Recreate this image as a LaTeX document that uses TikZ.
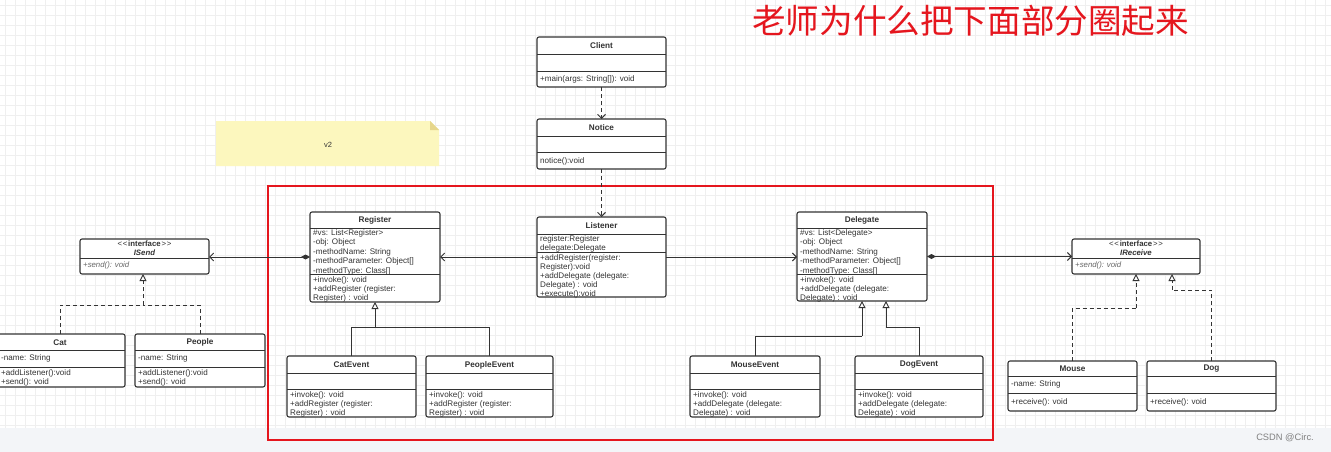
\documentclass[tikz,border=0pt]{standalone}
\usepackage{fontspec}
\setmainfont{Liberation Sans}
\newfontfamily\cjk{Noto Sans CJK SC}
\usetikzlibrary{arrows.meta}
\definecolor{boxc}{HTML}{333333}
\definecolor{txtc}{HTML}{333333}
\definecolor{gridc}{HTML}{EFEFEF}
\definecolor{redc}{HTML}{E5161E}
\definecolor{notef}{HTML}{FCF7BE}
\definecolor{notefold}{HTML}{E6D68C}
\definecolor{bandc}{HTML}{F3F5F8}
\tikzset{
  cls/.style={draw=boxc, line width=1.1pt, rounded corners=2pt, fill=white, inner sep=0pt, outer sep=0pt},
  sepl/.style={draw=boxc, line width=0.9pt},
  txt/.style={font=\fontsize{8.1}{9.4}\selectfont, text=txtc, inner sep=0pt, align=left, anchor=north west},
  ttl/.style={font=\bfseries\fontsize{8.2}{9}\selectfont, text=txtc, inner sep=0pt, align=center},
  conn/.style={draw=boxc, line width=0.9pt},
  dep/.style={conn, dash pattern=on 4pt off 3pt, -{Straight Barb[length=4pt,width=8pt]}},
  assoc/.style={conn, -{Straight Barb[length=4pt,width=8pt]}},
  comp/.style={conn, {Diamond[length=9pt,width=5pt]}-{Straight Barb[length=4pt,width=8pt]}},
  inh/.style={conn, -{Triangle[open,length=7pt,width=7pt,fill=white]}},
  real/.style={conn, dash pattern=on 4pt off 3pt, -{Triangle[open,length=7pt,width=7pt,fill=white]}},
  plain/.style={conn},
  dplain/.style={conn, dash pattern=on 4pt off 3pt}
}
\newcommand\ucls[5]{\node[cls, minimum width=#4pt, minimum height=#5pt, anchor=north west] (#1) at (#2,#3) {};}
\newcommand\usep[2]{\draw[sepl] ([yshift=-#2pt]#1.north west) -- ([yshift=-#2pt]#1.north east);}
\newcommand\utitle[3]{\node[ttl] at ([yshift=-#2pt]#1.north) {#3};}
\newcommand\utext[3]{\node[txt] at ([shift={(3pt,-#2pt)}]#1.north west) {#3};}
\newcommand\ifc{<\kern0.8pt<\kern0.8pt\textbf{interface}\kern0.8pt>\kern0.8pt>}
\begin{document}
\begin{tikzpicture}[x=1pt,y=-1pt]
\useasboundingbox (0,0) rectangle (1331,452);
\clip (0,0) rectangle (1331,452);
\fill[white] (0,0) rectangle (1331,452);
\foreach \i in {5,15,...,1325} \draw[gridc, line width=0.5pt] (\i,0) -- (\i,428);
\foreach \j in {5,15,...,425} \draw[gridc, line width=0.5pt] (0,\j) -- (1331,\j);
\fill[bandc] (0,428) rectangle (1331,452);

% title and watermark
\node[anchor=west, inner sep=0pt, text=redc, font=\cjk\fontsize{33.6}{36}\selectfont] (title) at (752,21) {老师为什么把下面部分圈起来};
\node[inner sep=0pt, text=gray, font=\fontsize{9.3}{10}\selectfont] (wm) at (1285,438) {CSDN @Circ.};

% note
\fill[notef] (216,121) -- (430,121) -- (439,130) -- (439,166) -- (216,166) -- cycle;
\fill[notefold] (430,121) -- (439,130) -- (430,130) -- cycle;
\node[inner sep=0pt, text=txtc, font=\fontsize{7.5}{8}\selectfont] (note) at (328,145) {v2};

% red frame
\draw[redc, line width=2.6pt] (268,186) rectangle (993,440);

% Client
\ucls{client}{537}{37}{129}{50}
\usep{client}{17}\usep{client}{34}
\utitle{client}{9}{Client}
\utext{client}{38}{+main(args: String[]): void}

% Notice
\ucls{notice}{537}{119}{129}{50}
\usep{notice}{17}\usep{notice}{33}
\utitle{notice}{9}{Notice}
\utext{notice}{38}{notice():void}

% Listener
\ucls{listener}{537}{217}{129}{80}
\usep{listener}{17}\usep{listener}{35}
\utitle{listener}{9}{Listener}
\node[txt, font=\fontsize{8.1}{8.8}\selectfont] at ([shift={(3pt,-18.5pt)}]listener.north west) {register:Register\\delegate:Delegate};
\node[txt, font=\fontsize{8.1}{9}\selectfont] at ([shift={(3pt,-37pt)}]listener.north west) {+addRegister(register:\\Register):void\\+addDelegate (delegate:\\Delegate) : void\\+execute():void};

% Register
\ucls{register}{310}{212}{130}{90}
\usep{register}{16}\usep{register}{62}
\utitle{register}{8.5}{Register}
\utext{register}{17.5}{\#vs: List<Register>\\-obj: Object\\-methodName: String\\-methodParameter: Object[]\\-methodType: Class[]}
\utext{register}{64}{+invoke(): void\\+addRegister (register:\\Register) : void}

% Delegate
\ucls{delegate}{797}{212}{130}{89}
\usep{delegate}{16}\usep{delegate}{62}
\utitle{delegate}{8.5}{Delegate}
\utext{delegate}{17.5}{\#vs: List<Delegate>\\-obj: Object\\-methodName: String\\-methodParameter: Object[]\\-methodType: Class[]}
\utext{delegate}{64}{+invoke(): void\\+addDelegate (delegate:\\Delegate) : void}

% ISend
\ucls{isend}{80}{239}{129}{35}
\usep{isend}{19}
\node[ttl, font=\fontsize{7.8}{8.6}\selectfont] at ([yshift=-9.5pt]isend.north) {\ifc\\\textbf{\textit{ISend}}};
\node[txt, font=\itshape\fontsize{7.8}{9}\selectfont, text=gray!80!black] at ([shift={(3pt,-23pt)}]isend.north west) {+send(): void};

% IReceive
\ucls{ireceive}{1072}{239}{128}{35}
\usep{ireceive}{19}
\node[ttl, font=\fontsize{7.8}{8.6}\selectfont] at ([yshift=-9.5pt]ireceive.north) {\ifc\\\textbf{\textit{IReceive}}};
\node[txt, font=\itshape\fontsize{7.8}{9}\selectfont, text=gray!80!black] at ([shift={(3pt,-23pt)}]ireceive.north west) {+send(): void};

% Cat
\ucls{cat}{-5}{334}{130}{53}
\usep{cat}{16}\usep{cat}{33}
\utitle{cat}{8.5}{Cat}
\node[txt] at ([shift={(6pt,-20.5pt)}]cat.north west) {-name: String};
\node[txt] at ([shift={(6pt,-35pt)}]cat.north west) {+addListener():void\\+send(): void};

% People
\ucls{people}{135}{334}{130}{53}
\usep{people}{16}\usep{people}{33}
\utitle{people}{8.5}{People}
\utext{people}{20.5}{-name: String}
\utext{people}{35}{+addListener():void\\+send(): void}

% CatEvent
\ucls{catevent}{287}{356}{129}{61}
\usep{catevent}{17}\usep{catevent}{33}
\utitle{catevent}{9}{CatEvent}
\utext{catevent}{35}{+invoke(): void\\+addRegister (register:\\Register) : void}

% PeopleEvent
\ucls{peopleevent}{426}{356}{127}{61}
\usep{peopleevent}{17}\usep{peopleevent}{33}
\utitle{peopleevent}{9}{PeopleEvent}
\utext{peopleevent}{35}{+invoke(): void\\+addRegister (register:\\Register) : void}

% MouseEvent
\ucls{mouseevent}{690}{356}{130}{61}
\usep{mouseevent}{17}\usep{mouseevent}{33}
\utitle{mouseevent}{9}{MouseEvent}
\utext{mouseevent}{35}{+invoke(): void\\+addDelegate (delegate:\\Delegate) : void}

% DogEvent
\ucls{dogevent}{855}{356}{128}{61}
\usep{dogevent}{17}\usep{dogevent}{33}
\utitle{dogevent}{9}{DogEvent}
\utext{dogevent}{35}{+invoke(): void\\+addDelegate (delegate:\\Delegate) : void}

% Mouse
\ucls{mouse}{1008}{361}{129}{50}
\usep{mouse}{15}\usep{mouse}{32}
\utitle{mouse}{8}{Mouse}
\utext{mouse}{19.5}{-name: String}
\utext{mouse}{37}{+receive(): void}

% Dog
\ucls{dog}{1147}{361}{129}{50}
\usep{dog}{15}\usep{dog}{32}
\utitle{dog}{8}{Dog}
\utext{dog}{37}{+receive(): void}

% connectors
\draw[dep] (client.south) -- (notice.north);
\draw[dep] (notice.south) -- (listener.north);
\draw[assoc] (listener.west) -- (listener.west -| register.east);
\draw[assoc] (listener.east) -- (listener.east -| delegate.west);
\draw[comp] (register.west) -- (register.west -| isend.east);
\draw[comp] (delegate.east) -- (delegate.east -| ireceive.west);

\coordinate (rj) at (375,327);
\draw[plain] (catevent.north) |- (rj);
\draw[plain] (peopleevent.north) |- (rj);
\draw[inh] (rj) -- (rj |- register.south);

\coordinate (dj1) at (862,336);
\coordinate (dj2) at (886,327);
\draw[plain] (mouseevent.north) |- (dj1);
\draw[inh] (dj1) -- (dj1 |- delegate.south);
\draw[plain] (dogevent.north) |- (dj2);
\draw[inh] (dj2) -- (dj2 |- delegate.south);

\coordinate (sj) at (143,305);
\draw[dplain] (cat.north) |- (sj);
\draw[dplain] (people.north) |- (sj);
\draw[real] (sj) -- (sj |- isend.south);

\coordinate (ij1) at (1136,308);
\coordinate (ij2) at (1172,290);
\draw[dplain] (mouse.north) |- (ij1);
\draw[real] (ij1) -- (ij1 |- ireceive.south);
\draw[dplain] (dog.north) |- (ij2);
\draw[real] (ij2) -- (ij2 |- ireceive.south);
\end{tikzpicture}
\end{document}
